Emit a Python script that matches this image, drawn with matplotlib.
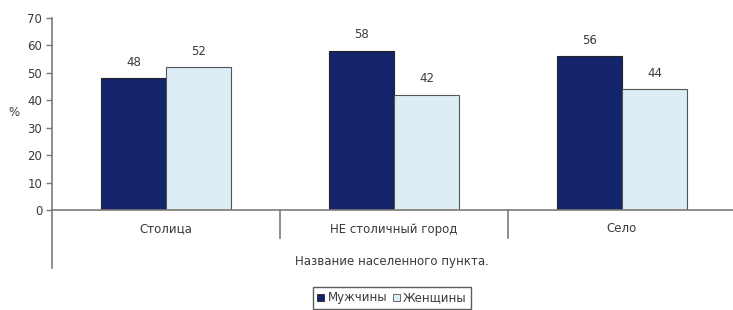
import matplotlib
matplotlib.use("Agg")
import matplotlib.pyplot as plt
from matplotlib.patches import Patch
import numpy as np

categories = ["Столица", "НЕ столичный город", "Село"]
men = [48, 58, 56]
women = [52, 42, 44]
series_names = ["Мужчины", "Женщины"]
y_ticks = [0, 10, 20, 30, 40, 50, 60, 70]
x_title = "Название населенного пункта."
y_title = "%"

plt.rcParams['font.family'] = ['DejaVu Sans']
FS = 8.5
W, H = 733, 310
fig = plt.figure(figsize=(W / 100, H / 100), dpi=100)
left, right, top, bottom = 52, 736, 18, 210
ax = fig.add_axes([left / W, 1 - bottom / H, (right - left) / W, (bottom - top) / H])

dark = "#14246a"
light = "#dcedf5"
axis_col = "#7f7a75"
text_col = "#3a3a3a"

x = np.arange(len(categories))
bw = 0.285
b1 = ax.bar(x - bw / 2, men, bw, color=dark, edgecolor="#222222", linewidth=0.8)
b2 = ax.bar(x + bw / 2, women, bw, color=light, edgecolor="#555555", linewidth=0.8)
for bars, vals in ((b1, men), (b2, women)):
    for r, v in zip(bars, vals):
        ax.annotate(str(v), (r.get_x() + r.get_width() / 2, v), xytext=(0, 7),
                    textcoords="offset points", ha="center", va="bottom",
                    fontsize=FS, color=text_col)

ax.set_xlim(-0.5, len(categories) - 0.5)
ax.set_ylim(0, 70)
ax.set_yticks(y_ticks)
ax.tick_params(axis='y', direction='out', length=4, width=1, color=axis_col,
               labelsize=FS, labelcolor=text_col, pad=3)
ax.set_xticks([])
for s in ("top", "right"):
    ax.spines[s].set_visible(False)
ax.spines["left"].set_color(axis_col)
ax.spines["bottom"].set_color(axis_col)
ax.spines["left"].set_linewidth(1.2)
ax.spines["bottom"].set_linewidth(1.2)

ph = (bottom - top)
def yfrac(py):
    return (bottom - py) / ph
ax.plot([-0.5, -0.5], [0, yfrac(268)], transform=ax.get_xaxis_transform(),
        color=axis_col, lw=1.2, clip_on=False)
for sx in x[:-1] + 0.5:
    ax.plot([sx, sx], [0, yfrac(238)], transform=ax.get_xaxis_transform(),
            color=axis_col, lw=1.2, clip_on=False)
for xi, c in zip(x, categories):
    ax.text(xi, yfrac(229), c, transform=ax.get_xaxis_transform(), ha="center",
            va="center", fontsize=FS, color=text_col)
fig.text(392 / W, 1 - 262 / H, x_title, ha="center", va="center", fontsize=FS, color=text_col)
fig.text(14 / W, 1 - 113 / H, y_title, ha="center", va="center", fontsize=FS, color=text_col)

handles = [Patch(facecolor=dark, edgecolor="#222222", linewidth=0.6),
           Patch(facecolor=light, edgecolor="#555555", linewidth=0.6)]
leg = fig.legend(handles, series_names, loc="center", bbox_to_anchor=(392 / W, 1 - 298 / H),
                 ncol=2, fontsize=FS, frameon=True, fancybox=False, handlelength=0.6,
                 handleheight=0.6, handletextpad=0.25, columnspacing=0.5, borderpad=0.35,
                 borderaxespad=0)
leg.get_frame().set_edgecolor("#333333")
leg.get_frame().set_linewidth(1.0)
for t in leg.get_texts():
    t.set_color(text_col)

fig.savefig("out.png", dpi=100)
